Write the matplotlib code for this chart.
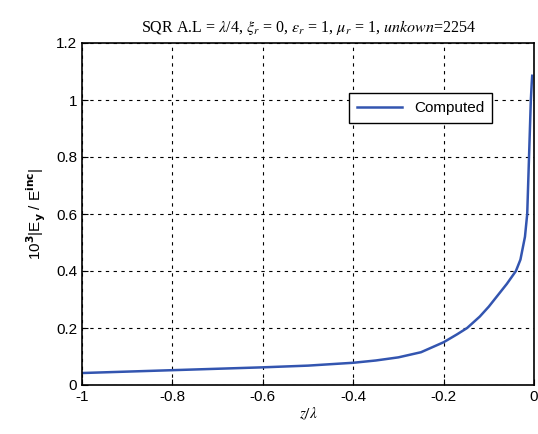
import numpy as np
import matplotlib.pyplot as plt

# values
z = [-1.0, -0.9, -0.8, -0.7, -0.6, -0.5, -0.4, -0.35, -0.3, -0.25, -0.2,
     -0.17, -0.148, -0.12, -0.1, -0.08, -0.06, -0.04, -0.03, -0.02,
     -0.015, -0.011, -0.009, -0.007, -0.005, -0.004]
e = [0.042, 0.047, 0.052, 0.057, 0.062, 0.068, 0.078, 0.086, 0.097, 0.115,
     0.150, 0.178, 0.200, 0.240, 0.275, 0.315, 0.355, 0.400, 0.440, 0.520,
     0.600, 0.800, 0.900, 1.000, 1.060, 1.085]

xticks = [-1, -0.8, -0.6, -0.4, -0.2, 0]
xticklabels = ["-1", "-0.8", "-0.6", "-0.4", "-0.2", "0"]
yticks = [0, 0.2, 0.4, 0.6, 0.8, 1, 1.2]
yticklabels = ["0", "0.2", "0.4", "0.6", "0.8", "1", "1.2"]

plt.rcParams["font.family"] = ["Liberation Sans", "DejaVu Sans"]

fig = plt.figure(figsize=(5.38, 4.34), dpi=100)
ax = fig.add_axes([82 / 538, 1 - 385 / 434, 452 / 538, 342 / 434])

ax.plot(z, e, color="#3355b0", lw=1.8, label="Computed")
ax.set_xlim(-1, 0)
ax.set_ylim(0, 1.2)
ax.set_xticks(xticks)
ax.set_xticklabels(xticklabels)
ax.set_yticks(yticks)
ax.set_yticklabels(yticklabels)
ax.tick_params(direction="in", labelsize=11, length=4, width=0.8)
ax.grid(True, color="black", linestyle=(0, (3, 4)), lw=0.8)
for s in ax.spines.values():
    s.set_linewidth(1.2)

ax.set_xlabel(r"$z/\lambda$", fontsize=11, labelpad=1,
              math_fontfamily="stix")
ax.set_ylabel(r"10$^{\mathbf{3}}$|E$_\mathbf{y}$ / E$^\mathbf{inc}$|",
              fontsize=11, labelpad=6)
ax.set_title(r"SQR A.L = $\lambda$/4, $\xi_r$ = 0, $\varepsilon_r$ = 1, "
             r"$\mu_r$ = 1, $\it{unkown}$=2254",
             fontsize=11.5, fontfamily="Liberation Serif",
             math_fontfamily="stix", pad=8)

leg = ax.legend(loc="upper right", bbox_to_anchor=(0.925, 0.875),
                fontsize=11, fancybox=False, framealpha=1,
                edgecolor="black", handlelength=3, borderpad=0.5)
leg.get_frame().set_linewidth(1.0)

fig.savefig("out.png", dpi=100)
